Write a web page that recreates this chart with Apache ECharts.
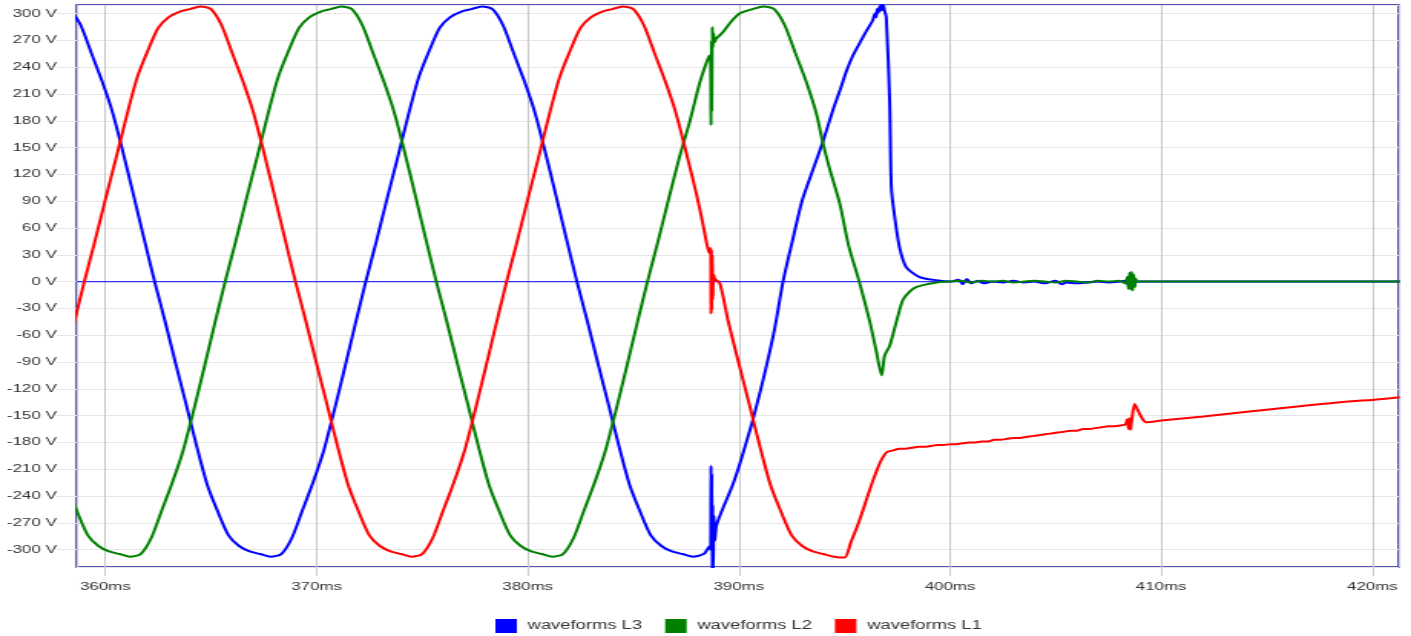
<!DOCTYPE html>
<html>
<head>
<meta charset="utf-8">
<script src="https://cdn.jsdelivr.net/npm/echarts@6/dist/echarts.min.js"></script>
<style>
html,body{margin:0;padding:0;background:#fff;}
#wrap{width:1411px;height:636px;overflow:hidden;position:relative;background:#fff;}
#chart{width:920px;height:636px;transform:scaleX(1.533696);transform-origin:0 0;}
</style>
</head>
<body>
<div id="wrap"><div id="chart"></div></div>
<script>
// ---- data (time in ms, voltage in V) ----
const seriesNames = ['waveforms L3', 'waveforms L2', 'waveforms L1'];
const seriesColors = ['#0000ff', '#008000', '#ff0000'];
const xRange = [358.64, 421.25];
const yRange = [-319.5, 309.6];
const zeroLevel = 0;

const l3Points = [
  [358.33,305],[358.83,287],[359.33,256],[359.83,225],[360.33,190],[360.83,145],[361.33,97],[361.83,48],
  [362.33,0],[362.83,-45],[363.33,-92],[363.83,-138],[364.33,-185],[364.83,-228],[365.33,-258],[365.83,-284],
  [366.33,-296],[366.83,-302],[367.33,-305],[367.83,-308],[368.33,-305],[368.83,-287],[369.33,-256],[369.83,-225],
  [370.33,-190],[370.83,-145],[371.33,-97],[371.83,-48],[372.33,0],[372.83,45],[373.33,92],[373.83,138],
  [374.33,185],[374.83,228],[375.33,258],[375.83,284],[376.33,296],[376.83,302],[377.33,305],[377.83,308],
  [378.33,305],[378.83,287],[379.33,256],[379.83,225],[380.33,190],[380.83,145],[381.33,97],[381.83,48],
  [382.33,0],[382.83,-45],[383.33,-92],[383.83,-138],[384.33,-185],[384.83,-228],[385.33,-258],[385.83,-284],
  [386.33,-296],[386.83,-302],[387.33,-305],[387.83,-308],[388.33,-305],[388.5,-300],[388.62,-296],
  [388.66,-300],[388.68,-206],[388.7,-290],[388.72,-215],[388.74,-330],[388.76,-250],[388.78,-325],
  [388.82,-262],[388.86,-290],[388.94,-273],[389.24,-254],[389.7,-228],[390.03,-205],[390.35,-180],
  [390.66,-155],[391.0,-124],[391.3,-95],[391.7,-52],[392.09,0],[392.54,46],[393.0,91],[393.49,124],
  [393.97,156],[394.44,191],[394.8,215],[395.1,236],[395.4,253],[395.72,267],[396.0,279],[396.33,292],
  [396.45,300],[396.5,296],[396.55,305],[396.6,301],[396.66,308],[396.7,303],[396.75,311],[396.8,304],
  [396.85,309],[396.9,303],[396.98,296],[397.14,203],[397.22,105],[397.38,72],[397.61,38],[397.93,16],
  [398.56,5],[399.35,1.5],[400.0,0],[400.4,2],[400.6,-3],[400.8,3],[401.0,-2],[401.3,1],[401.6,-2],
  [402.0,0],[402.5,-1],[403.0,1],[403.5,-1],[404.0,0],[404.5,-2],[405.0,1],[405.3,-3],[405.5,-1],
  [406.0,-2],[406.5,-1],[407.0,0],[407.5,-1],[408.0,0],[408.3,1],[408.45,-4],[408.5,5],[408.55,-6],
  [408.6,8],[408.65,-5],[408.7,4],[408.75,-2],[408.8,0],[421.3,0]
];

const l2Points = [
  [358.17,-228],[358.67,-258],[359.17,-284],[359.67,-296],[360.17,-302],[360.67,-305],[361.17,-308],[361.67,-305],
  [362.17,-287],[362.67,-256],[363.17,-225],[363.67,-190],[364.17,-145],[364.67,-97],[365.17,-48],[365.67,0],
  [366.17,45],[366.67,92],[367.17,138],[367.67,185],[368.17,228],[368.67,258],[369.17,284],[369.67,296],
  [370.17,302],[370.67,305],[371.17,308],[371.67,305],[372.17,287],[372.67,256],[373.17,225],[373.67,190],
  [374.17,145],[374.67,97],[375.17,48],[375.67,0],[376.17,-45],[376.67,-92],[377.17,-138],[377.67,-185],
  [378.17,-228],[378.67,-258],[379.17,-284],[379.67,-296],[380.17,-302],[380.67,-305],[381.17,-308],[381.67,-305],
  [382.17,-287],[382.67,-256],[383.17,-225],[383.67,-190],[384.17,-145],[384.67,-97],[385.17,-48],[385.67,0],
  [386.17,45],[386.67,92],[387.17,138],[387.66,178],[388.14,222],[388.46,245],[388.61,253],[388.66,245],
  [388.68,175],[388.7,270],[388.72,190],[388.74,285],[388.77,262],[388.8,278],[388.85,268],[388.93,272],
  [389.24,279],[389.56,289],[390.03,300],[390.65,305],[391.17,308],[391.67,305],[392.17,287],[392.67,256],
  [393.17,225],[393.67,188],[393.97,156],[394.3,126],[394.77,88],[395.2,40],[395.7,0],[396.19,-44],
  [396.5,-77],[396.76,-105],[396.9,-83],[397.14,-72],[397.47,-44],[397.76,-21],[398.1,-11],[398.42,-6],
  [398.9,-3],[399.37,-1],[400.0,0],[400.5,1],[401.0,-1],[401.5,1],[402.0,0],[402.5,1],[403.0,-1],
  [403.5,0],[404.0,1],[404.5,0],[405.0,-1],[405.5,1],[406.0,0],[406.5,-1],[407.0,1],[407.5,0],[408.0,1],
  [408.3,-2],[408.4,5],[408.45,-8],[408.5,10],[408.55,-9],[408.6,11],[408.65,-10],[408.7,8],[408.75,-6],
  [408.8,3],[408.85,0],[421.3,0]
];

const l1Points = [
  [358.5,-48],[359,0],[359.5,45],[360,92],[360.5,138],[361,185],[361.5,228],[362,258],[362.5,284],[363,296],
  [363.5,302],[364,305],[364.5,308],[365,305],[365.5,287],[366,256],[366.5,225],[367,190],[367.5,145],[368,97],
  [368.5,48],[369,0],[369.5,-45],[370,-92],[370.5,-138],[371,-185],[371.5,-228],[372,-258],[372.5,-284],[373,-296],
  [373.5,-302],[374,-305],[374.5,-308],[375,-305],[375.5,-287],[376,-256],[376.5,-225],[377,-190],[377.5,-145],
  [378,-97],[378.5,-48],[379,0],[379.5,45],[380,92],[380.5,138],[381,185],[381.5,228],[382,258],[382.5,284],
  [383,296],[383.5,302],[384,305],[384.5,308],[385,305],[385.5,287],[386,256],[386.5,225],[387,190],[387.5,145],
  [388,97],[388.3,64],[388.5,40],[388.6,32],[388.66,38],[388.68,-36],[388.7,36],[388.72,-32],[388.74,30],
  [388.76,-20],[388.8,8],[388.86,3],[389.1,-2],[389.5,-45],[390,-92],[390.5,-138],[391,-185],
  [391.5,-228],[392,-258],[392.5,-284],[393,-296],[393.5,-302],[394,-305],[394.5,-308],[395,-309],[395.3,-292],
  [395.7,-268],[396.3,-226],[396.7,-202],[397,-191],[397.3,-189],[397.6,-187],[397.9,-187],[398.2,-186],
  [398.5,-185],[398.8,-185],[399.1,-184],[399.4,-183],[399.7,-183],[400,-182],[400.3,-182],[400.6,-181],
  [400.9,-180],[401.2,-180],[401.5,-179],[401.8,-179],[402.1,-177],[402.4,-177],[402.7,-176],[403,-175],
  [403.3,-175],[403.6,-174],[403.9,-173],[404.2,-172],[404.5,-171],[404.8,-170],[405.1,-169],[405.4,-168],
  [405.7,-167],[406,-167],[406.3,-165],[406.6,-165],[406.9,-164],[407.2,-163],[407.5,-162],[407.8,-162],
  [408.1,-161],[408.3,-160],[408.4,-154],[408.45,-165],[408.5,-153],[408.55,-166],[408.6,-156],[408.74,-137],
  [408.85,-142],[408.98,-148],[409.15,-155],[409.3,-157.5],[410,-155.6],[412,-151],[414.18,-145.5],
  [416,-141],[417.34,-137.7],[419,-134],[420,-132.5],[421.3,-129.5]
];

// ---- chart ----
const FONT = 'Liberation Sans, Arial, sans-serif';
const chart = echarts.init(document.getElementById('chart'), null, {renderer: 'canvas'});
const seriesData = [l3Points, l2Points, l1Points];

const waveSeries = seriesNames.map((name, i) => ({
  name: name,
  type: 'line',
  data: seriesData[i],
  showSymbol: false,
  symbol: 'none',
  color: seriesColors[i],
  lineStyle: {color: seriesColors[i], width: 2},
  smooth: 0.25,
  clip: true,
  z: 3
}));

const zeroSeries = {
  name: 'zero',
  type: 'line',
  data: [[xRange[0], zeroLevel], [xRange[1], zeroLevel]],
  showSymbol: false,
  symbol: 'none',
  silent: true,
  color: '#3030ff',
  lineStyle: {color: '#3030ff', width: 1.3},
  z: 2
};

const option = {
  animation: false,
  backgroundColor: '#ffffff',
  grid: {
    left: 50, right: 8, top: 5, bottom: 69,
    show: true, borderColor: '#1c1ca0', borderWidth: 1.5, backgroundColor: 'transparent'
  },
  legend: {
    left: 323, top: 619, padding: 0,
    itemWidth: 14, itemHeight: 14, itemGap: 15, icon: 'rect',
    textStyle: {fontFamily: FONT, fontSize: 12, color: '#333', padding: [0, 0, 0, 2]},
    data: seriesNames
  },
  xAxis: {
    type: 'value', min: xRange[0], max: xRange[1], splitNumber: 6,
    axisLine: {show: false, onZero: false},
    axisTick: {show: true, length: 9, lineStyle: {color: '#cccccc'}},
    axisLabel: {
      margin: 14, fontFamily: FONT, fontSize: 11, color: '#333',
      showMinLabel: false, showMaxLabel: false,
      formatter: v => v + 'ms'
    },
    splitLine: {show: true, lineStyle: {color: '#c8c8c8', width: 1}}
  },
  yAxis: {
    type: 'value', min: yRange[0], max: yRange[1], splitNumber: 21,
    axisLine: {show: false, onZero: false},
    axisTick: {show: true, length: 13, lineStyle: {color: '#e6e6e6'}},
    axisLabel: {
      margin: 13, fontFamily: FONT, fontSize: 11, color: '#333',
      showMinLabel: false, showMaxLabel: false,
      formatter: v => v + ' V'
    },
    splitLine: {show: true, lineStyle: {color: '#e6e6e6', width: 1}}
  },
  series: [zeroSeries].concat(waveSeries)
};
chart.setOption(option);
</script>
</body>
</html>
